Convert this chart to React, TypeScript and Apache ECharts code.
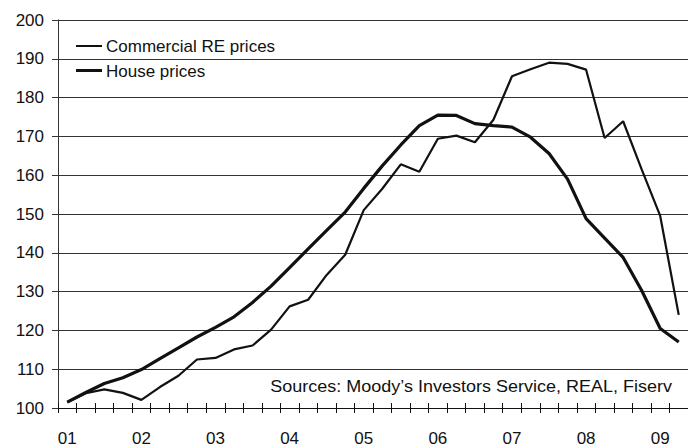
import React, { useEffect, useRef } from "react";
import * as echarts from "echarts";

const years = ["01", "02", "03", "04", "05", "06", "07", "08", "09"];
const quarterCount = 34; // 2001 Q1 .. 2009 Q2

const yTicks = [100, 110, 120, 130, 140, 150, 160, 170, 180, 190, 200];

const commercialRE = [
  101.5, 103.8, 104.8, 103.9, 102.1, 105.4, 108.3, 112.5,
  112.9, 115.1, 116.1, 120.2, 126.2, 127.9, 134.3, 139.5,
  151.0, 156.5, 162.8, 160.9, 169.4, 170.2, 168.5, 174.3,
  185.5, 187.3, 189.0, 188.7, 187.2, 169.6, 173.9, 161.5,
  149.5, 124.0,
];

const housePrices = [
  101.5, 104.0, 106.3, 107.8, 109.9, 112.7, 115.5, 118.3,
  120.8, 123.5, 127.2, 131.4, 136.2, 141.0, 145.8, 150.5,
  156.6, 162.4, 167.8, 172.8, 175.5, 175.4, 173.3, 172.8,
  172.4, 169.8, 165.6, 159.0, 148.8, 143.8, 138.8, 130.3,
  120.5, 117.0,
];

const seriesNames = ["Commercial RE prices", "House prices"];
const sourceNote = "Sources: Moody\u2019s Investors Service, REAL, Fiserv";

const categories: string[] = [];
for (let i = 0; i < quarterCount; i++) {
  categories.push(`${years[Math.floor(i / 4)]} Q${(i % 4) + 1}`);
}

const FONT = "'Liberation Sans', Arial, Helvetica, sans-serif";
const INK = "#111";

export default function App() {
  const ref = useRef<HTMLDivElement>(null);

  useEffect(() => {
    if (!ref.current) return;
    const chart = echarts.init(ref.current, null, { renderer: "svg" });
    const xBase = {
      type: "category" as const,
      data: categories,
      boundaryGap: true,
      position: "bottom" as const,
    };
    chart.setOption({
      animation: false,
      backgroundColor: "#fff",
      grid: { left: 58, right: -5, top: 20, bottom: 37.5, containLabel: false },
      xAxis: [
        {
          ...xBase,
          axisLine: { show: true, lineStyle: { color: INK, width: 1 } },
          axisTick: { show: true, inside: false, length: 5, interval: 0, lineStyle: { color: INK } },
          axisLabel: {
            interval: 0,
            margin: 22,
            fontSize: 17,
            fontFamily: FONT,
            color: INK,
            formatter: (v: string) => (v.endsWith("Q1") ? v.slice(0, 2) : ""),
          },
          splitLine: { show: false },
        },
        {
          ...xBase,
          axisLine: { show: false },
          axisTick: { show: true, inside: true, length: 5, interval: 0, lineStyle: { color: INK } },
          axisLabel: { show: false },
          splitLine: { show: false },
        },
      ],
      yAxis: {
        type: "value",
        min: yTicks[0],
        max: yTicks[yTicks.length - 1],
        interval: 10,
        axisLine: { show: true, lineStyle: { color: "#333", width: 1 } },
        axisTick: { show: true, length: 6, lineStyle: { color: "#333" } },
        axisLabel: { fontSize: 17, fontFamily: FONT, color: INK, margin: 14 },
        splitLine: { show: true, lineStyle: { color: "#333", width: 1 } },
      },
      series: [
        {
          name: seriesNames[0],
          type: "line",
          data: commercialRE,
          symbol: "none",
          lineStyle: { color: INK, width: 2.2 },
          z: 3,
        },
        {
          name: seriesNames[1],
          type: "line",
          data: housePrices,
          symbol: "none",
          lineStyle: { color: INK, width: 3.2 },
          z: 4,
        },
      ],
      graphic: [
        { type: "line", shape: { x1: 76, y1: 46, x2: 102, y2: 46 }, style: { stroke: INK, lineWidth: 2 } },
        { type: "line", shape: { x1: 76, y1: 70.5, x2: 102, y2: 70.5 }, style: { stroke: INK, lineWidth: 3 } },
        {
          type: "text",
          x: 106,
          y: 46,
          style: { text: seriesNames[0], font: `17px ${FONT}`, fill: INK, textAlign: "left", textVerticalAlign: "middle" },
        },
        {
          type: "text",
          x: 106,
          y: 71,
          style: { text: seriesNames[1], font: `17px ${FONT}`, fill: INK, textAlign: "left", textVerticalAlign: "middle" },
        },
        {
          type: "text",
          x: 672,
          y: 386,
          scaleX: 1.06,
          style: { text: sourceNote, font: `17px ${FONT}`, fill: INK, textAlign: "right", textVerticalAlign: "middle" },
        },
      ],
    });
    return () => chart.dispose();
  }, []);

  return (
    <div
      ref={ref}
      style={{ position: "absolute", left: 0, top: 0, width: 688, height: 447 }}
    />
  );
}
